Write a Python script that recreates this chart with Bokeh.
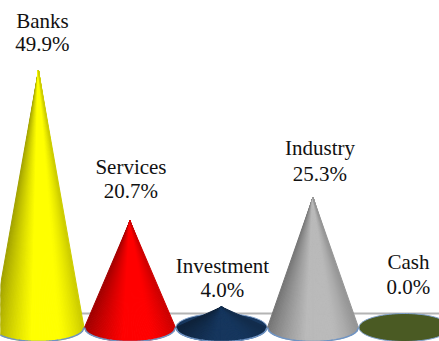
import numpy as np
from bokeh.embed import file_html
from bokeh.models import ColumnDataSource, Range1d, Span
from bokeh.plotting import figure
from bokeh.resources import INLINE
from bokeh.core.properties import value

categories = ["Banks", "Services", "Investment", "Industry", "Cash"]
shares = [49.9, 20.7, 4.0, 25.3, 0.0]
share_labels = ["49.9%", "20.7%", "4.0%", "25.3%", "0.0%"]
base_colors = [(255, 255, 0), (255, 0, 0), (23, 55, 94), (186, 186, 186), (74, 90, 35)]

W, H = 439, 341
PX_PER_X = 91.5
PX_PER_Y = 5.15
RADIUS = 45.5 / PX_PER_X
RY = 14 / PX_PER_Y

p = figure(width=W, height=H, output_backend="svg", toolbar_location=None,
           min_border=0, outline_line_color=None,
           x_range=Range1d(-0.415, -0.415 + W / PX_PER_X),
           y_range=Range1d(-14 / PX_PER_Y, 327 / PX_PER_Y))
p.xaxis.visible = False
p.yaxis.visible = False
p.grid.visible = False
p.background_fill_color = "white"

# back edge of the floor, running behind the cones
p.add_layout(Span(location=RY, dimension="width", line_color="#b4b4b4",
                  line_width=2, level="underlay"))


def shade(t):
    # darker toward both silhouette edges, left side more than right
    if t < 0:
        return 0.62 + 0.38 * min(1.0, (t + 1) / 0.85) ** 0.8
    return 1.0 - 0.2 * max(0.0, (t - 0.45) / 0.55) ** 1.5


def to_hex(rgb, s=1.0):
    return "#%02x%02x%02x" % tuple(int(min(255, c * s)) for c in rgb)


ts = np.linspace(-1, 1, 61)
angle = np.linspace(0, 2 * np.pi, 90)
for i, (share, rgb) in enumerate(zip(shares, base_colors)):
    xs_all = i + RADIUS * ts
    low = -RY * np.sqrt(np.clip(1 - ts ** 2, 0, 1))

    # flat base; only the smallest shares show its upper half
    small = share < 10
    if small:
        p.patch(i + RADIUS * np.cos(angle), RY * np.sin(angle),
                fill_color=to_hex(rgb), line_color="#7f9fca", line_width=1)

    if share <= 0:
        continue

    # cone body as a fan of thin shaded facets meeting at the apex
    fan_x, fan_y, fan_c = [], [], []
    for k in range(len(ts) - 1):
        s = shade((ts[k] + ts[k + 1]) / 2)
        fan_x.append([i, xs_all[k], xs_all[k + 1]])
        fan_y.append([share, low[k], low[k + 1]])
        fan_c.append(to_hex(rgb, s))
    p.patches(fan_x, fan_y, fill_color=fan_c, line_color=fan_c, line_width=1)
    p.line(xs_all, low, line_color="#6f94c4", line_width=1.5)

labels = ColumnDataSource(dict(
    x=list(range(len(categories))),
    y=shares,
    name=categories,
    pct=share_labels,
    dx=[4, 1, 1, 7, 4],
    name_off=[-50, -54, -41, -49, -66],
    pct_off=[-27, -30, -17, -23, -41],
))
font = dict(text_font=value("Liberation Serif"), text_font_size="21px",
            text_color="#111111", text_align="center", text_baseline="middle")
p.text("x", "y", text="name", x_offset="dx", y_offset="name_off", source=labels, **font)
p.text("x", "y", text="pct", x_offset="dx", y_offset="pct_off", source=labels, **font)

open("out.html", "w").write(file_html(p, INLINE))
